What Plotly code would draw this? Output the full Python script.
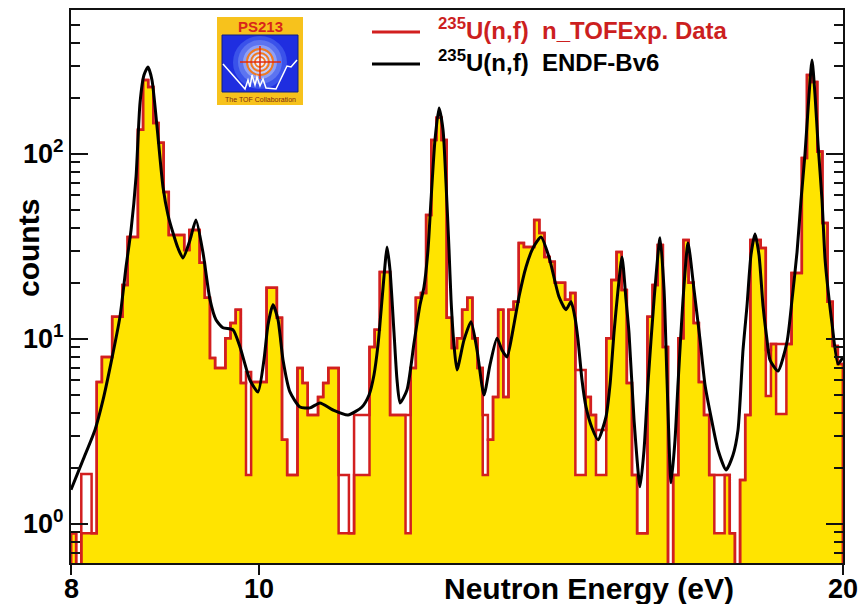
import numpy as np
import plotly.graph_objects as go

# ---------------- data ----------------
E_MIN, E_MAX = 8.0, 20.0
N_BINS = 150

# n_TOF experimental counts per bin (log-uniform bins from 8 to 20 eV)
counts = [
    0.89, 0, 1.86, 1.86, 0.89, 5.86, 7.99, 7.99, 13.2, 13.2, 19.6, 35.6, 35.6, 135, 251,
    230, 147, 115, 62.3, 36.5, 36.5, 36.5, 30.3, 38.8, 38.8, 25.8, 16.7, 7.89, 6.97, 6.97,
    10.1, 12.2, 14.4, 5.78, 6.63, 5.86, 5.86, 5.86, 18.9, 18.9, 13.0, 2.85, 1.84, 1.84, 6.97,
    5.78, 3.88, 3.88, 4.86, 5.78, 6.97, 6.97, 1.84, 1.84, 0.89, 3.88, 3.88, 3.88, 9.05, 11.2,
    23.0, 23.0, 3.88, 3.88, 3.88, 3.88, 6.97, 16.7, 17.7, 46.8, 119, 157, 119, 13.0, 8.94,
    10.1, 14.4, 16.7, 10.1, 6.97, 3.88, 2.85, 4.86, 14.4, 4.86, 14.4, 15.9, 33.0, 31.4, 31.4,
    44.0, 37.4, 27.7, 26.1, 20.1, 20.1, 16.3, 17.7, 6.80, 6.80, 4.86, 3.88, 3.22, 3.22, 10.1,
    20.8, 29.5, 18.4, 5.78, 1.84, 0.89, 0.89, 13.2, 19.6, 32.2, 9.05, 0, 1.84, 10.1, 34.3,
    20.1, 12.2, 5.86, 3.88, 1.84, 1.84, 1.84, 1.84, 0.89, 0, 1.73, 3.88, 34.3, 34.3, 31.0,
    8.72, 9.40, 9.40, 9.40, 9.40, 22.7, 22.7, 95.1, 267, 245, 103, 42.4, 15.9, 9.17, 7.33,
]

# bins where the yellow filled level sits below the red outline
fill_gap_bins = [2, 3, 34, 52, 53, 55, 56, 57, 65, 80, 98, 99, 102, 103, 125, 126, 135, 137, 138]
fill_gap_levels = [0.89, 0.89, 1.84, 0.89, 0.89, 1.84, 1.84, 1.84, 0.89, 1.84, 1.84, 1.84,
                   1.84, 1.84, 0.89, 0.89, 4.92, 3.93, 3.93]

# ENDF/B-VI evaluation curve
endf_energy = [
    8.000, 8.115, 8.231, 8.310, 8.389, 8.479, 8.540, 8.591, 8.642, 8.683,
    8.724, 8.766, 8.807, 8.860, 8.923, 8.976, 9.030, 9.083, 9.137, 9.214,
    9.279, 9.357, 9.435, 9.502, 9.581, 9.696, 9.777, 9.893, 9.988, 10.059,
    10.107, 10.167, 10.228, 10.289, 10.374, 10.498, 10.624, 10.750, 10.918, 11.114,
    11.300, 11.395, 11.462, 11.517, 11.572, 11.613, 11.641, 11.682, 11.738, 11.780,
    11.822, 11.920, 12.020, 12.106, 12.163, 12.221, 12.265, 12.323, 12.382, 12.441,
    12.485, 12.530, 12.560, 12.604, 12.649, 12.755, 12.861, 12.953, 13.061, 13.154,
    13.264, 13.343, 13.422, 13.518, 13.615, 13.729, 13.843, 13.975, 14.109, 14.277,
    14.396, 14.482, 14.551, 14.603, 14.672, 14.742, 14.848, 14.954, 15.096, 15.168,
    15.240, 15.313, 15.386, 15.459, 15.514, 15.607, 15.718, 15.793, 15.868, 15.982,
    16.096, 16.173, 16.230, 16.308, 16.385, 16.444, 16.541, 16.640, 16.759, 16.879,
    16.979, 17.100, 17.243, 17.407, 17.552, 17.657, 17.762, 17.846, 17.931, 18.017,
    18.102, 18.189, 18.275, 18.340, 18.515, 18.714, 18.826, 18.938, 19.028, 19.118,
    19.209, 19.278, 19.347, 19.416, 19.508, 19.578, 19.648, 19.741, 19.882, 20.000,
]
endf_value = [
    1.53, 2.22, 3.22, 4.68, 7.42, 13.2, 24.5, 38.8, 75.1, 189,
    267, 295, 251, 140, 66.3, 46.8, 37.4, 31.0, 27.4, 34.3,
    44.0, 29.2, 16.3, 12.7, 11.5, 11.2, 9.05, 6.00, 5.17, 7.70,
    11.9, 15.3, 12.7, 7.70, 5.17, 4.29, 4.24, 4.51, 4.13, 3.88,
    4.29, 4.98, 6.39, 9.28, 16.3, 25.1, 31.4, 23.6, 10.8, 6.00,
    4.51, 5.30, 9.51, 15.3, 19.1, 30.3, 56.4, 119, 177, 135,
    69.7, 30.3, 16.3, 9.28, 6.80, 9.88, 12.4, 8.72, 4.98, 7.24,
    10.1, 8.72, 7.99, 11.2, 16.9, 24.5, 31.0, 35.6, 27.7, 16.9,
    14.4, 15.9, 13.0, 9.88, 6.00, 4.29, 3.30, 2.85, 3.79, 5.64,
    10.8, 18.4, 27.7, 16.3, 10.8, 3.65, 1.59, 2.51, 5.78, 16.3,
    35.2, 18.4, 6.00, 1.67, 2.85, 5.78, 16.3, 33.0, 18.4, 9.88,
    5.64, 3.79, 2.51, 1.96, 2.36, 3.22, 8.72, 15.1, 28.5, 36.9,
    28.5, 15.1, 9.88, 7.70, 6.71, 9.63, 16.3, 29.5, 56.4, 100,
    208, 322, 208, 113, 56.4, 27.1, 18.4, 12.1, 7.33, 7.99,
]

x_tick_vals = [8, 10, 20]
x_tick_text = ["8", "10", "20"]
y_tick_vals = [1, 10, 100]
y_tick_text = ["10<sup>0</sup>", "10<sup>1</sup>", "10<sup>2</sup>"]
y_minor_vals = [0.7, 0.8, 0.9, 2, 3, 4, 5, 6, 7, 8, 9, 20, 30, 40, 50, 60, 70, 80, 90, 200, 300, 400, 500]
Y_MIN, Y_MAX = 0.615, 600

legend_exp = "<sup>235</sup>U(n,f)\u00a0\u00a0n_TOFExp. Data"
legend_endf = "<sup>235</sup>U(n,f)\u00a0\u00a0ENDF-Bv6"

# ---------------- build ----------------
RED = "#d21f1f"
YELLOW = "#ffe400"
FONT = "Liberation Sans, Arial, Helvetica, sans-serif"
FLOOR = 1e-3

edges = np.logspace(np.log10(E_MIN), np.log10(E_MAX), N_BINS + 1)
counts_arr = np.array(counts, dtype=float)
fill_arr = counts_arr.copy()
fill_arr[fill_gap_bins] = fill_gap_levels


def step(vals):
    v = np.where(vals > 0, vals, FLOOR)
    xs = np.repeat(edges, 2)[1:-1]
    ys = np.repeat(v, 2)
    xs = np.concatenate([[edges[0]], xs, [edges[-1]]])
    ys = np.concatenate([[FLOOR], ys, [FLOOR]])
    return xs, ys


fx, fy = step(fill_arr)
cx, cy = step(counts_arr)

fig = go.Figure()
fig.add_trace(go.Scatter(x=fx, y=fy, mode="lines", fill="toself", fillcolor=YELLOW,
                         line=dict(width=0, color=YELLOW), showlegend=False, hoverinfo="skip"))
fig.add_trace(go.Scatter(x=fx, y=fy, mode="lines", line=dict(width=2.5, color=RED),
                         showlegend=False, hoverinfo="skip"))
fig.add_trace(go.Scatter(x=cx, y=cy, mode="lines", line=dict(width=2.5, color=RED),
                         name="exp", showlegend=False))
fig.add_trace(go.Scatter(x=endf_energy, y=endf_value, mode="lines",
                         line=dict(width=3, color="black", shape="spline", smoothing=0.6),
                         name="endf", showlegend=False))

L, R, T, B = 71, 17, 10, 41
W, H = 860, 604
PW, PH = W - L - R, H - T - B


def px(x):
    return (x - L) / PW


def py(y):
    return (T + PH - y) / PH


shapes = []
annotations = []

# x tick labels (placed as annotations for exact vertical position)
for v, t in zip(x_tick_vals, x_tick_text):
    annotations.append(dict(xref="x", yref="paper", x=np.log10(v), y=py(589), xanchor="center",
                            yanchor="middle", showarrow=False, text="<b>" + t + "</b>",
                            font=dict(family=FONT, size=27, color="black")))

# legend
shapes.append(dict(type="line", xref="paper", yref="paper", x0=px(372), x1=px(420),
                   y0=py(32), y1=py(32), line=dict(color=RED, width=3)))
shapes.append(dict(type="line", xref="paper", yref="paper", x0=px(372), x1=px(420),
                   y0=py(64), y1=py(64), line=dict(color="black", width=3)))
annotations.append(dict(xref="paper", yref="paper", x=px(436), y=py(29), xanchor="left",
                        yanchor="middle", showarrow=False, text="<b>" + legend_exp + "</b>",
                        font=dict(family=FONT, size=24, color="#cc1f1f")))
annotations.append(dict(xref="paper", yref="paper", x=px(436), y=py(61), xanchor="left",
                        yanchor="middle", showarrow=False, text="<b>" + legend_endf + "</b>",
                        font=dict(family=FONT, size=24, color="black")))

# axis titles
annotations.append(dict(xref="paper", yref="paper", x=px(736), y=py(588), xanchor="right",
                        yanchor="middle", showarrow=False, text="<b>Neutron Energy (eV)</b>",
                        font=dict(family=FONT, size=30, color="black")))
annotations.append(dict(xref="paper", yref="paper", x=px(29), y=py(248), xanchor="center",
                        yanchor="middle", showarrow=False, text="<b>counts</b>", textangle=-90,
                        font=dict(family=FONT, size=30, color="black")))

# logo
shapes.append(dict(type="rect", xref="paper", yref="paper", x0=px(217), x1=px(303),
                   y0=py(105), y1=py(17), fillcolor="#f7c21c", line=dict(width=0)))
shapes.append(dict(type="rect", xref="paper", yref="paper", x0=px(222), x1=px(298),
                   y0=py(92), y1=py(35), fillcolor="#1f2ee0", line=dict(color="#102080", width=1)))
for r, col in [(27, "#3a52ea"), (22, "#5d74f0"), (17, "#8ea0f6"), (12, "#c3cdfb"), (7, "#eef1ff")]:
    shapes.append(dict(type="circle", xref="paper", yref="paper", x0=px(260 - r), x1=px(260 + r),
                       y0=py(62 + min(r, 29)), y1=py(62 - min(r, 26)), fillcolor=col, line=dict(width=0)))
for r in [13, 9, 5]:
    shapes.append(dict(type="circle", xref="paper", yref="paper", x0=px(260 - r), x1=px(260 + r),
                       y0=py(62 + r), y1=py(62 - r), line=dict(color="#f07a20", width=2)))
shapes.append(dict(type="line", xref="paper", yref="paper", x0=px(240), x1=px(281), y0=py(62), y1=py(62),
                   line=dict(color="#e02a10", width=1.5)))
shapes.append(dict(type="line", xref="paper", yref="paper", x0=px(260), x1=px(260), y0=py(46), y1=py(79),
                   line=dict(color="#e02a10", width=1.5)))
mountain = [(223, 64), (245, 89), (248, 80), (250, 87), (252, 75), (255, 85), (257, 77), (260, 86),
            (263, 79), (266, 88), (276, 89), (287, 66), (291, 67), (297, 60)]
path = "M " + " L ".join(f"{px(a):.5f},{py(b):.5f}" for a, b in mountain)
shapes.append(dict(type="path", xref="paper", yref="paper", path=path,
                   line=dict(color="white", width=1.5)))
annotations.append(dict(xref="paper", yref="paper", x=px(260), y=py(26), xanchor="center",
                        yanchor="middle", showarrow=False, text="<b>PS213</b>",
                        font=dict(family=FONT, size=15, color="#d8261a")))
annotations.append(dict(xref="paper", yref="paper", x=px(260), y=py(99), xanchor="center",
                        yanchor="middle", showarrow=False, text="The TOF Collaboration",
                        font=dict(family=FONT, size=7, color="#7a2a10")))

fig.update_layout(
    width=W, height=H,
    margin=dict(l=L, r=R, t=T, b=B, autoexpand=False),
    paper_bgcolor="white", plot_bgcolor="white",
    showlegend=False,
    shapes=shapes, annotations=annotations,
    xaxis=dict(type="log", range=[np.log10(E_MIN), np.log10(E_MAX)], automargin=False,
               tickmode="array", tickvals=x_tick_vals, ticktext=x_tick_text, showticklabels=False,
               ticks="outside", ticklen=10, tickwidth=2, tickcolor="#111",
               showline=True, linecolor="#111", linewidth=2, mirror=True,
               showgrid=False, zeroline=False),
    yaxis=dict(type="log", range=[np.log10(Y_MIN), np.log10(Y_MAX)], automargin=False,
               tickmode="array", tickvals=y_tick_vals, ticktext=y_tick_text,
               ticks="inside", ticklen=17, tickwidth=2, tickcolor="#111",
               minor=dict(tickmode="array", tickvals=y_minor_vals, ticks="inside",
                          ticklen=9, tickwidth=1.5, tickcolor="#111", showgrid=False),
               showline=True, linecolor="#111", linewidth=2, mirror="ticks",
               showgrid=False, zeroline=False,
               tickfont=dict(family=FONT, size=27, color="black", weight="bold")),
)

fig.write_html("out.html")
